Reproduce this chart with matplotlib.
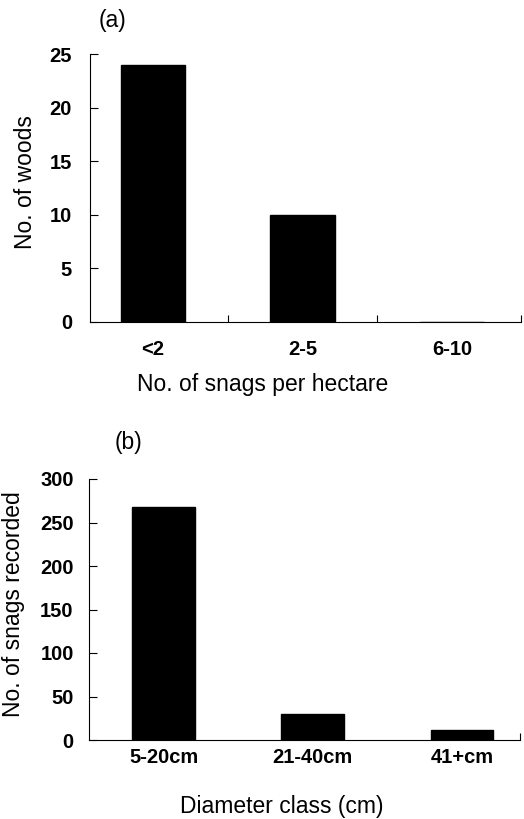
import numpy as np
import matplotlib
matplotlib.use("Agg")
import matplotlib.pyplot as plt

plt.rcParams['font.family'] = ['Liberation Sans', 'DejaVu Sans']

# Panel (a): woods by snag density
density_classes = ["<2", "2-5", "6-10"]
woods_counts = [24, 10, 0]
a_yticks = [0, 5, 10, 15, 20, 25]

# Panel (b): snags by diameter class
diameter_classes = ["5-20cm", "21-40cm", "41+cm"]
snag_counts = [268, 30, 11]
b_yticks = [0, 50, 100, 150, 200, 250, 300]

fig = plt.figure(figsize=(5.24, 8.19), dpi=100)
ax1 = fig.add_axes([90/524, 1-322/819, 431/524, 268/819])
ax2 = fig.add_axes([89/524, 1-740/819, 431/524, 261/819])

def style(ax, cats, vals, yticks, ymax, xlim, width, bound_ticks, ypad, xpad):
    x = np.arange(len(cats))
    ax.bar(x, vals, width=width, color='black', edgecolor='black')
    ax.set_xlim(*xlim)
    ax.set_ylim(0, ymax)
    ax.set_yticks(yticks)
    ax.set_xticks(x)
    ax.set_xticklabels(cats, fontsize=14.5, fontweight='bold')
    ax.tick_params(axis='x', length=0, pad=xpad)
    ax.set_xticks(bound_ticks, minor=True)
    ax.tick_params(axis='x', which='minor', direction='in', length=5, width=0.8)
    ax.tick_params(axis='y', direction='in', length=6, width=0.8, pad=ypad)
    for lab in ax.get_yticklabels():
        lab.set_fontsize(14.5)
        lab.set_fontweight('bold')
    for s in ['top', 'right']:
        ax.spines[s].set_visible(False)
    for s in ['left', 'bottom']:
        ax.spines[s].set_linewidth(0.8)

style(ax1, density_classes, woods_counts, a_yticks, 25, (-0.42, 2.46), 0.43,
      [0.5, 1.5, 2.46], 13, 13)
style(ax2, diameter_classes, snag_counts, b_yticks, 300, (-0.5, 2.39), 0.42,
      [2.39], 11, 6)

ax1.set_ylabel("No. of woods", fontsize=16.5, va='center')
ax1.yaxis.set_label_coords((26-90)/431, (322-182)/268)
ax1.set_xlabel("No. of snags per hectare", fontsize=16.5, va='center')
ax1.xaxis.set_label_coords((263-90)/431, (322-385)/268)

ax2.set_ylabel("No. of snags recorded", fontsize=16.5, va='center')
ax2.yaxis.set_label_coords((14-89)/431, (740-604)/261)
ax2.set_xlabel("Diameter class (cm)", fontsize=16.5, va='center')
ax2.xaxis.set_label_coords((282-89)/431, (740-807)/261)

fig.text(112/524, 1-20/819, "(a)", fontsize=16.5, va='center', ha='center')
fig.text(129/524, 1-443/819, "(b)", fontsize=16.5, va='center', ha='center')

fig.savefig("out.png", dpi=100)
